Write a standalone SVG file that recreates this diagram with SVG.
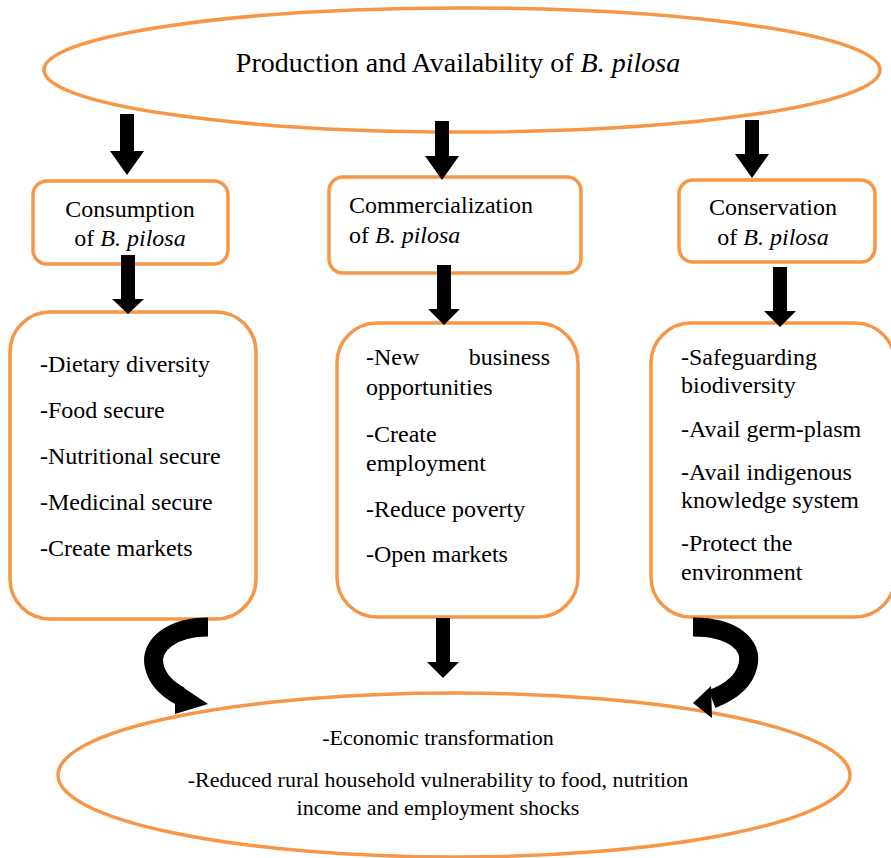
<svg xmlns="http://www.w3.org/2000/svg" width="891" height="858" viewBox="0 0 891 858">
<style>
.o{fill:#fff;stroke:#F79646;stroke-width:3.5}
.a{fill:#000}
.t{font-family:"Liberation Serif","Times New Roman",serif;font-size:24px;fill:#000}
.b{font-family:"Liberation Serif","Times New Roman",serif;font-size:22px;fill:#000}
.c{text-anchor:middle}
</style>
<rect width="891" height="858" fill="#fff"/>
<g id="production">
<ellipse class="o" cx="462" cy="70" rx="418" ry="62"/>
<text class="t c" x="458" y="72" style="font-size:28px">Production and Availability of <tspan font-style="italic">B. pilosa</tspan></text>
</g>
<g id="consumption">
<rect class="o" x="33" y="181" width="195" height="83" rx="14"/>
<text class="t c" x="130" y="217">Consumption</text>
<text class="t c" x="130" y="246">of <tspan font-style="italic">B. pilosa</tspan></text>
</g>
<g id="commercialization">
<rect class="o" x="329" y="177" width="252" height="96" rx="14"/>
<text class="t" x="349" y="213">Commercialization</text>
<text class="t" x="349" y="243">of <tspan font-style="italic">B. pilosa</tspan></text>
</g>
<g id="conservation">
<rect class="o" x="679" y="180" width="196" height="82" rx="14"/>
<text class="t c" x="773" y="215">Conservation</text>
<text class="t c" x="773" y="245">of <tspan font-style="italic">B. pilosa</tspan></text>
</g>
<g id="consumption-benefits">
<rect class="o" x="10" y="312" width="246" height="307" rx="40"/>
<text class="t" x="40" y="372">-Dietary diversity</text>
<text class="t" x="40" y="418">-Food secure</text>
<text class="t" x="40" y="464">-Nutritional secure</text>
<text class="t" x="40" y="510">-Medicinal secure</text>
<text class="t" x="40" y="556">-Create markets</text>
</g>
<g id="commercialization-benefits">
<rect class="o" x="337" y="323" width="241" height="294" rx="40"/>
<text class="t" x="366" y="365">-New</text>
<text class="t" x="550" y="365" text-anchor="end">business</text>
<text class="t" x="366" y="395">opportunities</text>
<text class="t" x="366" y="442">-Create</text>
<text class="t" x="366" y="471">employment</text>
<text class="t" x="366" y="517">-Reduce poverty</text>
<text class="t" x="366" y="562">-Open markets</text>
</g>
<g id="conservation-benefits">
<rect class="o" x="651" y="323" width="244" height="294" rx="40"/>
<text class="t" x="681" y="365">-Safeguarding</text>
<text class="t" x="681" y="393">biodiversity</text>
<text class="t" x="681" y="437">-Avail germ-plasm</text>
<text class="t" x="681" y="480">-Avail indigenous</text>
<text class="t" x="681" y="508">knowledge system</text>
<text class="t" x="681" y="551">-Protect the</text>
<text class="t" x="681" y="580">environment</text>
</g>
<g id="outcome">
<ellipse class="o" cx="454" cy="775" rx="396" ry="82"/>
<text class="b c" x="438" y="745">-Economic transformation</text>
<text class="b c" x="438" y="787">-Reduced rural household vulnerability to food, nutrition</text>
<text class="b c" x="438" y="815">income and employment shocks</text>
</g>
<g id="connectors">
<polygon class="a" points="120,114 134,114 134,151 144,151 127,175 110,151 120,151"/>
<polygon class="a" points="435,121 449,121 449,156 459,156 442,180 425,156 435,156"/>
<polygon class="a" points="745,120 759,120 759,154 769,154 752,178 735,154 745,154"/>
<polygon class="a" points="121,255 135,255 135,299 144,299 128,314 112,299 121,299"/>
<polygon class="a" points="437,265 451,265 451,309 460,309 444,325 428,309 437,309"/>
<polygon class="a" points="773,267 787,267 787,311 796,311 780,327 764,311 773,311"/>
<polygon class="a" points="436,618 450,618 450,662 459,662 443,678 427,662 436,662"/>
<path d="M208,627 C172,627 150,645 154,665 C157,680 167,689 180,696" fill="none" stroke="#000" stroke-width="19"/>
<polygon class="a" points="175,682 208,704 175,714"/>
<path d="M693,627 C733,627 753,645 748,665 C744,683 728,693 712,699" fill="none" stroke="#000" stroke-width="19"/>
<polygon class="a" points="711,686 693,703 712,718"/>
</g>
</svg>
